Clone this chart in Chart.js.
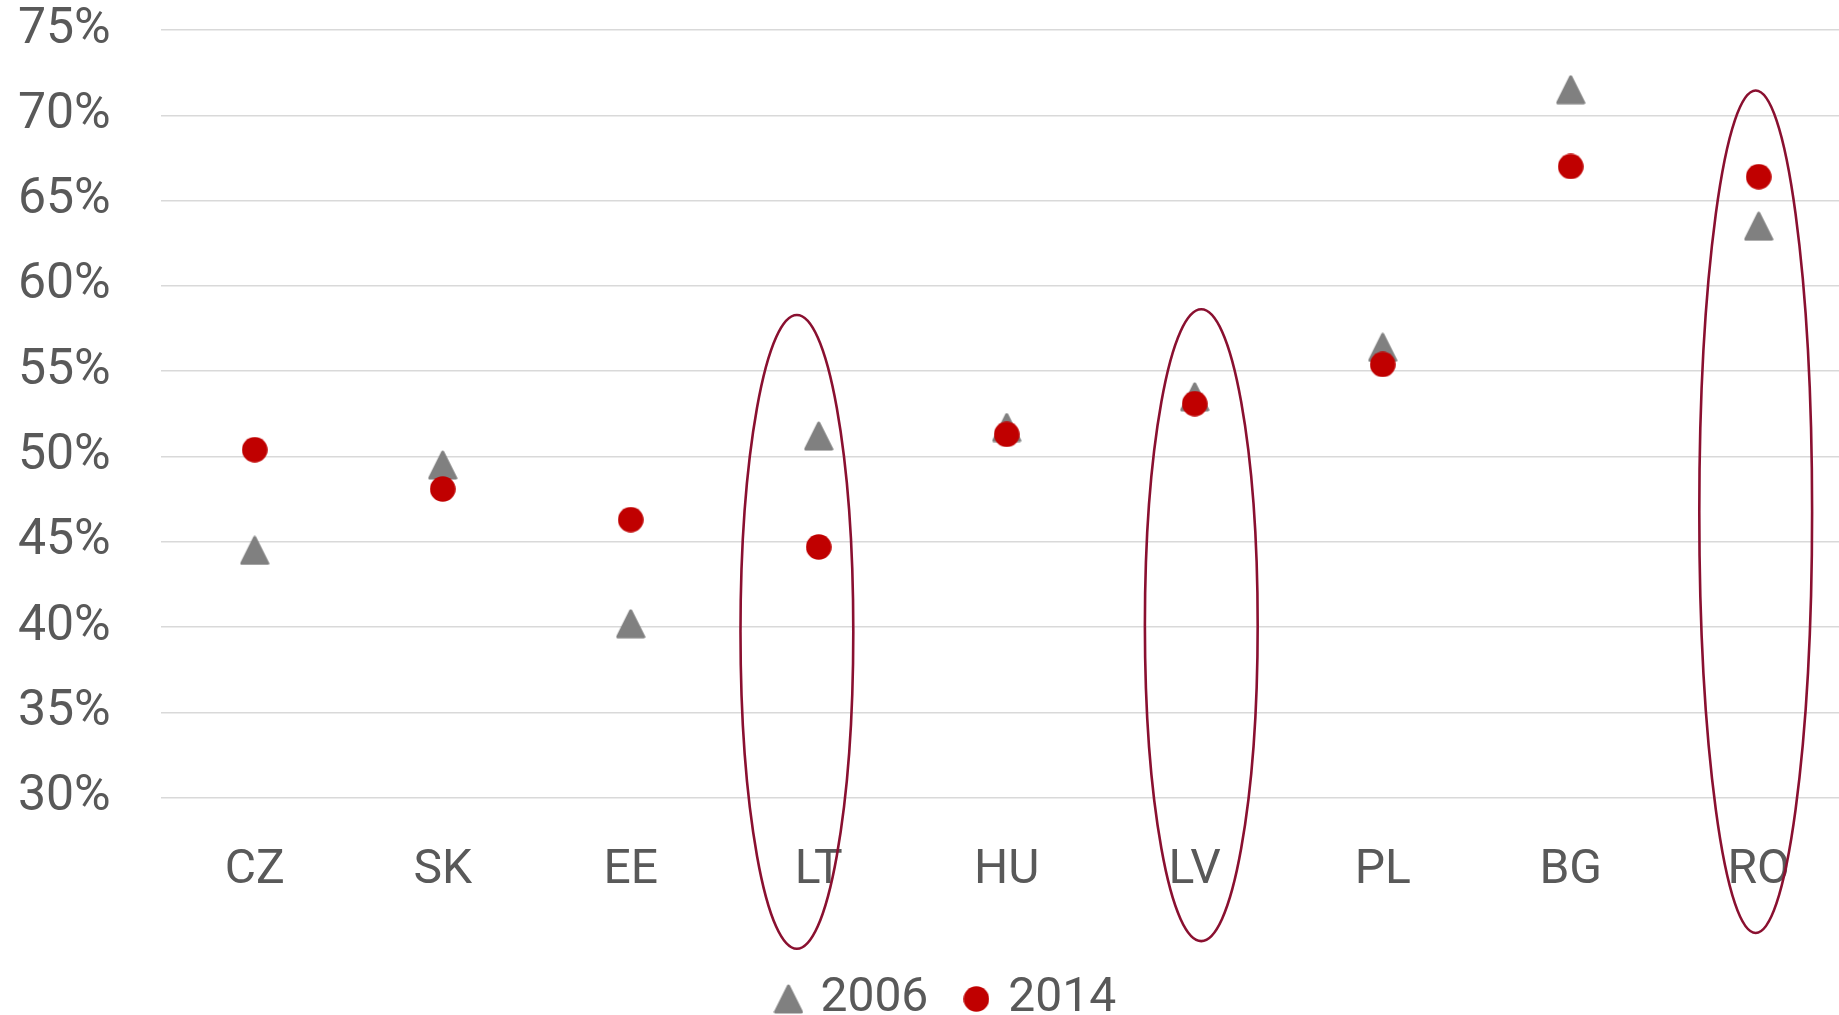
<!DOCTYPE html>
<html>
<head>
<meta charset="utf-8">
<script src="https://cdn.jsdelivr.net/npm/chart.js@4"></script>
<style>
  html, body { margin: 0; padding: 0; background: #ffffff; overflow: hidden; }
  #wrap { width: 1881px; height: 1033px; position: relative; }
</style>
</head>
<body>
<div id="wrap"><canvas id="c"></canvas></div>
<script>
// ---- data ----
const categories = ['CZ', 'SK', 'EE', 'LT', 'HU', 'LV', 'PL', 'BG', 'RO'];
const values2006 = [44.5, 49.5, 40.2, 51.2, 51.7, 53.5, 56.4, 71.5, 63.5];
const values2014 = [50.4, 48.1, 46.3, 44.7, 51.3, 53.1, 55.4, 67.0, 66.4];
const seriesLabels = ['2006', '2014'];
const yTicks = [30, 35, 40, 45, 50, 55, 60, 65, 70, 75];
// highlighted countries (ellipses), in data units
const highlightCats = ['LT', 'LV', 'RO'];
const highlightShift = [-0.116, 0.035, -0.016];
const highlightTop = [58.3, 58.63, 71.45];
const highlightBottom = [21.15, 21.6, 22.08];

// ---- marker images ----
function makeTriangle() {
  const c = document.createElement('canvas');
  c.width = 30; c.height = 30;
  const g = c.getContext('2d');
  g.fillStyle = '#808080'; g.strokeStyle = '#808080';
  g.lineJoin = 'round'; g.lineWidth = 3;
  g.beginPath();
  g.moveTo(15, 2); g.lineTo(28, 28); g.lineTo(2, 28); g.closePath();
  g.fill(); g.stroke();
  return c;
}
function makeCircle() {
  const c = document.createElement('canvas');
  c.width = 26; c.height = 26;
  const g = c.getContext('2d');
  g.fillStyle = '#C00000';
  g.beginPath(); g.arc(13, 13, 12.8, 0, Math.PI * 2); g.fill();
  return c;
}
const triImg = makeTriangle();
const dotImg = makeCircle();

const ellipsePlugin = {
  id: 'ellipses',
  afterDatasetsDraw(chart) {
    const x = chart.scales.x, y = chart.scales.y, ctx = chart.ctx;
    ctx.save();
    ctx.strokeStyle = '#8A1030';
    ctx.lineWidth = 2.6;
    highlightCats.forEach((cat, i) => {
      const idx = categories.indexOf(cat) + highlightShift[i];
      const cx = x.getPixelForValue(idx);
      const rx = x.getPixelForValue(idx + 0.3) - cx;
      const yt = y.getPixelForValue(highlightTop[i]);
      const yb = y.getPixelForValue(highlightBottom[i]);
      ctx.beginPath();
      ctx.ellipse(cx, (yt + yb) / 2, rx, (yb - yt) / 2, 0, 0, Math.PI * 2);
      ctx.stroke();
    });
    ctx.restore();
  }
};

// nudges the legend block horizontally to match the reference layout
const legendShiftPlugin = {
  id: 'legendShift',
  afterLayout(chart) {
    const l = chart.legend;
    if (l) { l.left += 22; l.right += 22; }
  }
};

const TXT = '#595959';

new Chart(document.getElementById('c'), {
  type: 'line',
  data: {
    labels: categories,
    datasets: [
      { label: seriesLabels[0], data: values2006, showLine: false, pointStyle: triImg, order: 1,
        backgroundColor: '#808080', borderColor: '#808080' },
      { label: seriesLabels[1], data: values2014, showLine: false, pointStyle: dotImg, order: 0,
        backgroundColor: '#C00000', borderColor: '#C00000' }
    ]
  },
  options: {
    responsive: true,
    maintainAspectRatio: false,
    animation: false,
    layout: { padding: { top: 30, left: 0, right: 28.3, bottom: 0 } },
    plugins: {
      tooltip: { enabled: false },
      legend: {
        position: 'bottom',
        labels: {
          usePointStyle: true,
          pointStyleWidth: 16,
          boxWidth: 16, boxHeight: 30,
          padding: 40,
          color: TXT,
          font: { family: 'Roboto', size: 48 },
          sort: (a, b) => a.datasetIndex - b.datasetIndex
        }
      }
    },
    scales: {
      x: {
        offset: true,
        grid: { display: false, drawTicks: false },
        border: { display: false },
        ticks: { color: TXT, font: { family: 'Roboto', size: 48 }, padding: 44, maxRotation: 0 },
        afterFit(s) { s.height = 137.2; }
      },
      y: {
        min: 30, max: 75,
        afterBuildTicks(s) { s.ticks = yTicks.map(v => ({ value: v })); },
        grid: { color: '#D9D9D9', lineWidth: 1.5, drawTicks: false },
        border: { display: false },
        ticks: { color: TXT, font: { family: 'Roboto', size: 50 }, padding: 50, callback: v => v + '%' },
        afterFit(s) { s.width = 160.7; s.paddingTop = 0; s.paddingBottom = 0; }
      }
    }
  },
  plugins: [ellipsePlugin, legendShiftPlugin]
});
</script>
</body>
</html>
